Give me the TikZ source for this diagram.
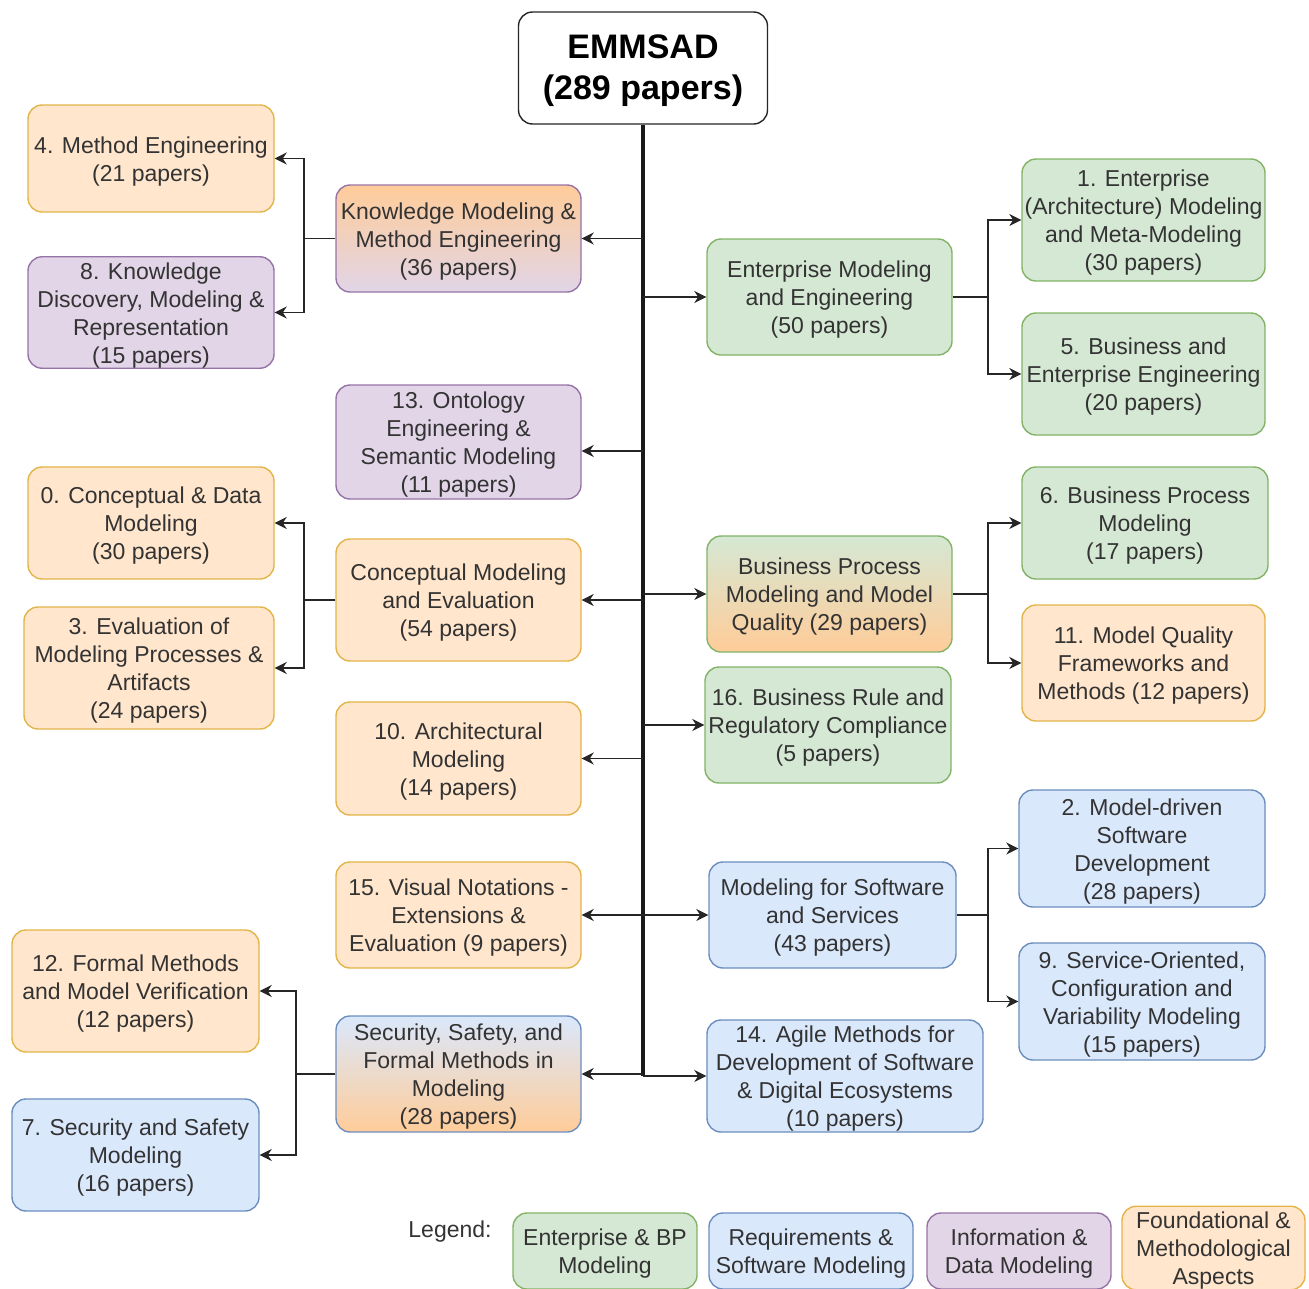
\documentclass[tikz,border=0pt]{standalone}
\usepackage{fontspec}
\setmainfont{Liberation Sans}
\usetikzlibrary{arrows.meta}
\definecolor{gfill}{HTML}{D5E8D4}
\definecolor{gline}{HTML}{82B366}
\definecolor{bfill}{HTML}{DAE8FC}
\definecolor{bline}{HTML}{6C8EBF}
\definecolor{pfill}{HTML}{E1D5E7}
\definecolor{pline}{HTML}{9673A6}
\definecolor{ofill}{HTML}{FFE6CC}
\definecolor{oline}{HTML}{E3B448}
\definecolor{odeep}{HTML}{FFCC99}
\definecolor{txt}{HTML}{333333}
\begin{document}
\begin{tikzpicture}[x=1pt,y=-1pt,
  box/.style={rounded corners=14pt, line width=1.4pt, align=center, inner sep=0pt,
    font=\fontsize{23}{28}\selectfont, text=txt,
    execute at begin node={\vbox\bgroup\vskip6pt},
    execute at end node={\egroup}},
  gbox/.style={box, fill=gfill, draw=gline},
  bbox/.style={box, fill=bfill, draw=bline},
  pbox/.style={box, fill=pfill, draw=pline},
  obox/.style={box, fill=ofill, draw=oline},
  sz/.style 2 args={minimum width=#1, minimum height=#2},
  conn/.style={line width=1.7pt, draw=black!85},
  arr/.style={conn, -{Stealth[length=12pt,width=12pt]}},
  trunk/.style={line width=4pt, draw=black!90}
]
\useasboundingbox (0,0) rectangle (1309,1288);
\clip (0,0) rectangle (1309,1288);

% root
\node[box, draw=black!85, fill=white, text=black, sz={249}{112},
  font=\bfseries\fontsize{34}{41}\selectfont] (em) at (643,68) {EMMSAD\\(289 papers)};

% left hubs
\node[box, draw=pline, top color=odeep, bottom color=pfill, sz={245}{107}] (km) at (458.5,238.5)
  {Knowledge Modeling \&\\Method Engineering\\(36 papers)};
\node[pbox, sz={245}{114}] (on) at (458.5,442) {13. Ontology\\Engineering \&\\Semantic Modeling\\(11 papers)};
\node[obox, sz={245}{122}] (cme) at (458.5,600) {Conceptual Modeling\\and Evaluation\\(54 papers)};
\node[obox, sz={245}{113}] (ar) at (458.5,758.5) {10. Architectural\\Modeling\\(14 papers)};
\node[obox, sz={245}{106}] (vn) at (458.5,915) {15. Visual Notations -\\Extensions \&\\Evaluation (9 papers)};
\node[box, draw=bline, top color=bfill, bottom color=odeep, sz={245}{116}] (ssf) at (458.5,1074)
  {Security, Safety, and\\Formal Methods in\\Modeling\\(28 papers)};

% right hubs
\node[gbox, sz={245}{116}] (eme) at (829.5,297) {Enterprise Modeling\\and Engineering\\(50 papers)};
\node[box, draw=gline, top color=gfill, bottom color=odeep, sz={245}{116}] (bpm) at (829.5,594)
  {Business Process\\Modeling and Model\\Quality (29 papers)};
\node[gbox, sz={246}{116}] (br) at (828,725) {16. Business Rule and\\Regulatory Compliance\\(5 papers)};
\node[bbox, sz={247}{106}] (mss) at (832.5,915) {Modeling for Software\\and Services\\(43 papers)};
\node[bbox, sz={276}{112}] (ag) at (845,1076) {14. Agile Methods for\\Development of Software\\\& Digital Ecosystems\\(10 papers)};

% left leaves
\node[obox, sz={246}{107}] (l4) at (151,158.5) {4. Method Engineering\\(21 papers)};
\node[pbox, sz={246}{107}] (l8) at (151,312.5) {8. Knowledge\\Discovery, Modeling \&\\Representation\\(15 papers)};
\node[obox, sz={246}{112}] (l0) at (151,523) {0. Conceptual \& Data\\Modeling\\(30 papers)};
\node[obox, sz={250}{122}] (l3) at (149,668) {3. Evaluation of\\Modeling Processes \&\\Artifacts\\(24 papers)};
\node[obox, sz={247}{122}] (l12) at (135.5,991) {12. Formal Methods\\and Model Verification\\(12 papers)};
\node[bbox, sz={247}{112}] (l7) at (135.5,1155) {7. Security and Safety\\Modeling\\(16 papers)};

% right leaves
\node[gbox, sz={243}{122}] (r1) at (1143.5,220) {1. Enterprise\\(Architecture) Modeling\\and Meta-Modeling\\(30 papers)};
\node[gbox, sz={243}{122}] (r5) at (1143.5,374) {5. Business and\\Enterprise Engineering\\(20 papers)};
\node[gbox, sz={246}{112}] (r6) at (1145,523) {6. Business Process\\Modeling\\(17 papers)};
\node[obox, sz={243}{116}] (r11) at (1143.5,663) {11. Model Quality\\Frameworks and\\Methods (12 papers)};
\node[bbox, sz={246}{117}] (r2) at (1142,848.5) {2. Model-driven\\Software\\Development\\(28 papers)};
\node[bbox, sz={246}{117}] (r9) at (1142,1001.5) {9. Service-Oriented,\\Configuration and\\Variability Modeling\\(15 papers)};

% legend
\node[font=\fontsize{23}{28}\selectfont, text=txt, inner sep=0pt] (leg) at (450,1232) {Legend:};
\node[gbox, sz={184}{76}] (lg) at (605,1251) {Enterprise \& BP\\Modeling};
\node[bbox, sz={204}{76}] (lb) at (811,1251) {Requirements \&\\Software Modeling};
\node[pbox, sz={184}{76}] (lp) at (1019,1251) {Information \&\\Data Modeling};
\node[obox, sz={183}{80}] (lo) at (1213.5,1248) {Foundational \&\\Methodological\\Aspects};

% trunk
\coordinate (tend) at (em.south |- ag.west);
\draw[trunk] (em.south) -- (tend);
\coordinate (onin) at ([yshift=-9pt]on.east);

% trunk branches
\draw[arr] (em.south |- km.east) -- (km.east);
\draw[arr] (em.south |- onin) -- (onin);
\draw[arr] (em.south |- cme.east) -- (cme.east);
\draw[arr] (em.south |- ar.east) -- (ar.east);
\draw[arr] (em.south |- vn.east) -- (vn.east);
\draw[arr] (em.south |- ssf.east) -- (ssf.east);
\draw[arr] (em.south |- eme.west) -- (eme.west);
\draw[arr] (em.south |- bpm.west) -- (bpm.west);
\draw[arr] (em.south |- br.west) -- (br.west);
\draw[arr] (em.south |- mss.west) -- (mss.west);
\draw[arr] (tend) -- (ag.west);

% leaf groups
\draw[conn] (km.west) -- ++(-31,0) coordinate (jkm);
\draw[arr] (jkm) |- (l4.east);
\draw[arr] (jkm) |- (l8.east);
\draw[conn] (cme.west) -- ++(-31,0) coordinate (jcm);
\draw[arr] (jcm) |- (l0.east);
\draw[arr] (jcm) |- (l3.east);
\draw[conn] (ssf.west) -- ++(-39,0) coordinate (jss);
\draw[arr] (jss) |- (l12.east);
\draw[arr] (jss) |- (l7.east);
\draw[conn] (eme.east) -- ++(35,0) coordinate (jem);
\draw[arr] (jem) |- (r1.west);
\draw[arr] (jem) |- (r5.west);
\draw[conn] (bpm.east) -- ++(35,0) coordinate (jbp);
\draw[arr] (jbp) |- (r6.west);
\draw[arr] (jbp) |- (r11.west);
\draw[conn] (mss.east) -- ++(31,0) coordinate (jms);
\draw[arr] (jms) |- (r2.west);
\draw[arr] (jms) |- (r9.west);
\end{tikzpicture}
\end{document}
